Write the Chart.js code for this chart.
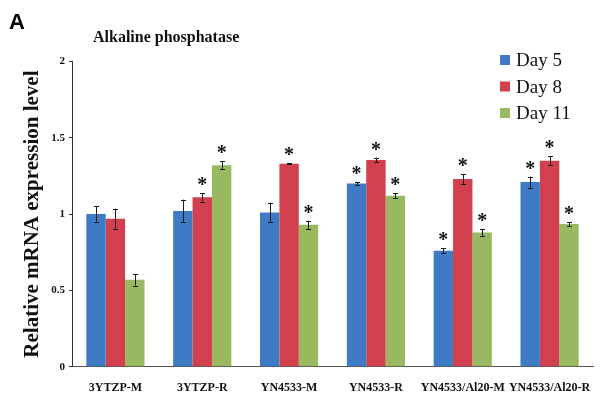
<!DOCTYPE html>
<html>
<head>
<meta charset="utf-8">
<script src="https://cdn.jsdelivr.net/npm/chart.js@4.4.1/dist/chart.umd.min.js"></script>
<style>
  html, body { margin: 0; padding: 0; background: #fff; }
  #wrap { width: 610px; height: 397px; position: relative; }
</style>
</head>
<body>
<div id="wrap"><canvas id="c" width="610" height="397"></canvas></div>
<script>
// Sample groups and relative ALP mRNA levels (mean and error) per culture day
const categories = ['3YTZP-M', '3YTZP-R', 'YN4533-M', 'YN4533-R', 'YN4533/Al20-M', 'YN4533/Al20-R'];
const day5  = [1.00, 1.02, 1.01, 1.20, 0.76, 1.21];
const day8  = [0.97, 1.11, 1.33, 1.355, 1.23, 1.35];
const day11 = [0.57, 1.32, 0.93, 1.12, 0.88, 0.935];
const err5  = [0.05, 0.075, 0.065, 0.01, 0.017, 0.036];
const err8  = [0.065, 0.028, 0.004, 0.015, 0.033, 0.03];
const err11 = [0.038, 0.027, 0.027, 0.017, 0.023, 0.014];
// significance markers (*)
const star5  = [false, false, false, true, true, true];
const star8  = [false, true, true, true, true, true];
const star11 = [false, true, true, true, true, true];
const yTicks = [0, 0.5, 1, 1.5, 2];

const seriesLabels = ['Day 5', 'Day 8', 'Day 11'];
const seriesColors = ['#3E7BC4', '#D2404F', '#98B960'];
const errors = [err5, err8, err11];
const stars = [star5, star8, star11];

const SERIF = '"Liberation Serif", "Times New Roman", serif';

const errorBarPlugin = {
  id: 'errorBars',
  afterDatasetsDraw(chart) {
    const ctx = chart.ctx;
    const y = chart.scales.y;
    ctx.save();
    chart.data.datasets.forEach((ds, i) => {
      const meta = chart.getDatasetMeta(i);
      meta.data.forEach((bar, j) => {
        const v = ds.data[j];
        const e = errors[i][j];
        const top = y.getPixelForValue(v + e);
        const bot = y.getPixelForValue(v - e);
        const x = Math.round(bar.x) + 0.5;
        ctx.strokeStyle = '#1a1a1a';
        ctx.lineWidth = 1;
        ctx.beginPath();
        ctx.moveTo(x, top); ctx.lineTo(x, bot);
        ctx.moveTo(x - 2.5, Math.round(top) + 0.5); ctx.lineTo(x + 2.5, Math.round(top) + 0.5);
        ctx.moveTo(x - 2.5, Math.round(bot) + 0.5); ctx.lineTo(x + 2.5, Math.round(bot) + 0.5);
        ctx.stroke();
        if (stars[i][j]) {
          ctx.fillStyle = '#111';
          ctx.font = 'bold 20px ' + SERIF;
          ctx.textAlign = 'center';
          ctx.textBaseline = 'middle';
          ctx.fillText('*', bar.x, top - 7);
        }
      });
    });
    ctx.restore();
  }
};

const decorPlugin = {
  id: 'decor',
  afterDraw(chart) {
    const ctx = chart.ctx;
    ctx.save();
    ctx.fillStyle = '#000';
    ctx.textBaseline = 'alphabetic';
    ctx.textAlign = 'left';
    ctx.font = 'bold 22px "Liberation Sans", Arial, sans-serif';
    ctx.fillText('A', 9, 29);
    ctx.font = 'bold 16px ' + SERIF;
    ctx.fillStyle = '#111';
    ctx.fillText('Alkaline phosphatase', 93, 42);
    // legend
    const x0 = 500, y0 = 55, step = 26.5;
    chart.data.datasets.forEach((ds, i) => {
      const yy = y0 + i * step;
      ctx.fillStyle = ds.backgroundColor;
      ctx.fillRect(x0, yy, 10, 10);
      ctx.fillStyle = '#111';
      ctx.font = '19px ' + SERIF;
      ctx.fillText(ds.label, x0 + 16, yy + 11);
    });
    ctx.restore();
  }
};

new Chart(document.getElementById('c'), {
  type: 'bar',
  data: {
    labels: categories,
    datasets: [day5, day8, day11].map((d, i) => ({
      label: seriesLabels[i],
      data: d,
      backgroundColor: seriesColors[i],
      borderWidth: 0,
      categoryPercentage: 0.67,
      barPercentage: 1.0
    }))
  },
  options: {
    responsive: false,
    animation: false,
    devicePixelRatio: 1,
    layout: { padding: { left: 0, right: 17, top: 61.5, bottom: 0 } },
    plugins: {
      legend: { display: false },
      title: { display: false },
      tooltip: { enabled: false }
    },
    scales: {
      x: {
        grid: { display: false },
        border: { display: true, color: '#555', width: 1 },
        ticks: {
          color: '#111',
          font: { family: SERIF, size: 12, weight: 'bold' },
          padding: 6,
          maxRotation: 0,
          autoSkip: false
        },
        afterFit(scale) { scale.height = 30.3; }
      },
      y: {
        min: 0,
        max: 2,
        afterBuildTicks(scale) { scale.ticks = yTicks.map(v => ({ value: v })); },
        grid: { drawOnChartArea: false, drawTicks: true, tickLength: 3, color: '#333' },
        border: { display: true, color: '#333', width: 1 },
        ticks: {
          color: '#111',
          font: { family: SERIF, size: 11, weight: 'bold' },
          padding: 4,
          callback: (v) => String(v)
        },
        title: {
          display: true,
          text: 'Relative mRNA expression level',
          color: '#111',
          font: { family: SERIF, size: 21, weight: 'bold' },
          padding: { top: 20, bottom: 0 }
        },
        afterFit(scale) { scale.width = 72; }
      }
    }
  },
  plugins: [errorBarPlugin, decorPlugin]
});
</script>
</body>
</html>
